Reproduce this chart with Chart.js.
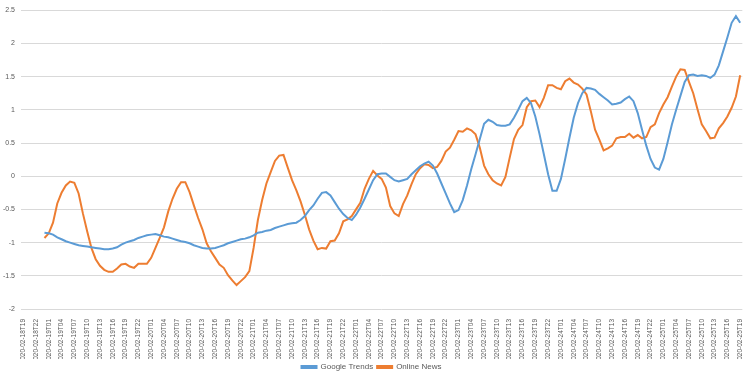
<!DOCTYPE html>
<html>
<head>
<meta charset="utf-8">
<script src="https://cdn.jsdelivr.net/npm/chart.js@4/dist/chart.umd.min.js"></script>
<style>
html,body{margin:0;padding:0;background:#fff;}
#wrap{width:750px;height:381px;position:relative;}
</style>
</head>
<body>
<div id="wrap"><canvas id="c" width="750" height="381"></canvas></div>
<script>
// Category labels: hourly, 2020-02-18T19 .. 2020-02-25T19
const startDay = 18;
const startHour = 19;
const hourCount = 169;
const categories = [];
for (let k = 0; k < hourCount; k++) {
  const t = startHour + k;
  const d = startDay + Math.floor(t / 24);
  const h = t % 24;
  categories.push('2020-02-' + String(d).padStart(2, '0') + 'T' + String(h).padStart(2, '0'));
}

const googleTrends = [
  null, null, null, null, null,
  -0.85, -0.86, -0.88, -0.92, -0.95, -0.98, -1.00, -1.02, -1.04, -1.05,
  -1.06, -1.07, -1.08, -1.09, -1.10, -1.10, -1.09, -1.07, -1.03, -1.00,
  -0.98, -0.96, -0.93, -0.91, -0.89, -0.88, -0.87, -0.89, -0.91, -0.92,
  -0.94, -0.96, -0.98, -0.99, -1.01, -1.04, -1.06, -1.08, -1.09, -1.09,
  -1.08, -1.06, -1.04, -1.01, -0.99, -0.97, -0.95, -0.94, -0.92, -0.89,
  -0.85, -0.84, -0.82, -0.81, -0.78, -0.76, -0.74, -0.72, -0.71, -0.70,
  -0.66, -0.60, -0.51, -0.44, -0.34, -0.25, -0.24, -0.29, -0.39, -0.49,
  -0.57, -0.63, -0.66, -0.58, -0.47, -0.34, -0.20, -0.06, 0.03, 0.04,
  0.04, -0.01, -0.06, -0.08, -0.06, -0.04, 0.03, 0.09, 0.15, 0.19,
  0.22, 0.16, 0.04, -0.11, -0.26, -0.41, -0.54, -0.51, -0.36, -0.14,
  0.11, 0.33, 0.56, 0.79, 0.85, 0.82, 0.77, 0.76, 0.76, 0.78,
  0.88, 1.00, 1.13, 1.18, 1.10, 0.90, 0.63, 0.33, 0.03, -0.22,
  -0.22, -0.04, 0.26, 0.58, 0.88, 1.10, 1.25, 1.33, 1.32, 1.30,
  1.24, 1.19, 1.14, 1.08, 1.09, 1.11, 1.16, 1.20, 1.13, 0.95,
  0.70, 0.46, 0.26, 0.13, 0.10, 0.26, 0.51, 0.78, 1.00, 1.21,
  1.42, 1.52, 1.53, 1.51, 1.52, 1.51, 1.48, 1.53, 1.67, 1.88,
  2.09, 2.31, 2.41, 2.31
];

const onlineNews = [
  null, null, null, null, null,
  -0.93, -0.86, -0.70, -0.41, -0.25, -0.14, -0.08, -0.10, -0.26, -0.56,
  -0.83, -1.08, -1.25, -1.35, -1.41, -1.44, -1.44, -1.39, -1.33, -1.32,
  -1.36, -1.38, -1.32, -1.32, -1.32, -1.23, -1.08, -0.93, -0.77, -0.53,
  -0.34, -0.19, -0.09, -0.09, -0.24, -0.44, -0.63, -0.80, -1.01, -1.13,
  -1.23, -1.33, -1.38, -1.49, -1.57, -1.64, -1.58, -1.52, -1.43, -1.08,
  -0.66, -0.36, -0.11, 0.06, 0.23, 0.31, 0.32, 0.13, -0.06, -0.21,
  -0.38, -0.58, -0.80, -0.97, -1.10, -1.08, -1.09, -0.98, -0.97, -0.86,
  -0.68, -0.65, -0.60, -0.50, -0.40, -0.19, -0.04, 0.08, 0.01, -0.04,
  -0.17, -0.45, -0.56, -0.60, -0.42, -0.29, -0.12, 0.03, 0.12, 0.18,
  0.17, 0.12, 0.14, 0.23, 0.37, 0.43, 0.55, 0.68, 0.67, 0.72,
  0.69, 0.63, 0.43, 0.16, 0.03, -0.06, -0.11, -0.14, -0.01, 0.28,
  0.56, 0.70, 0.77, 1.04, 1.13, 1.14, 1.04, 1.18, 1.37, 1.37,
  1.33, 1.31, 1.43, 1.47, 1.41, 1.38, 1.32, 1.23, 0.98, 0.70,
  0.55, 0.39, 0.42, 0.46, 0.57, 0.59, 0.59, 0.64, 0.58, 0.62,
  0.57, 0.59, 0.74, 0.78, 0.95, 1.08, 1.19, 1.35, 1.50, 1.61,
  1.60, 1.42, 1.25, 1.01, 0.78, 0.68, 0.57, 0.58, 0.72, 0.80,
  0.90, 1.03, 1.20, 1.52
];

const yMin = -2, yMax = 2.5, yStep = 0.5;
const labelEvery = 3;

const textColor = '#595959';
const gridColor = '#d9d9d9';

new Chart(document.getElementById('c'), {
  type: 'line',
  data: {
    labels: categories,
    datasets: [
      { label: 'Google Trends', data: googleTrends, borderColor: '#5b9bd5', backgroundColor: '#5b9bd5',
        borderWidth: 2, pointRadius: 0, tension: 0, spanGaps: false },
      { label: 'Online News', data: onlineNews, borderColor: '#ed7d31', backgroundColor: '#ed7d31',
        borderWidth: 2, pointRadius: 0, tension: 0, spanGaps: false }
    ]
  },
  options: {
    responsive: false,
    animation: false,
    devicePixelRatio: 1,
    layout: { padding: { left: 0, right: 7, top: 0, bottom: 0 } },
    plugins: {
      legend: {
        position: 'bottom',
        labels: {
          boxWidth: 15, boxHeight: 2, padding: 4, color: textColor,
          font: { family: 'Liberation Sans, Arial, sans-serif', size: 8 }
        }
      },
      tooltip: { enabled: false }
    },
    scales: {
      x: {
        type: 'category',
        offset: true,
        grid: { display: false },
        border: { display: false },
        ticks: {
          autoSkip: false, maxRotation: 90, minRotation: 90, padding: 2,
          color: textColor,
          font: { family: 'Liberation Sans, Arial, sans-serif', size: 6.5 },
          callback: function(v, i) { return i % labelEvery === 0 ? categories[i] : ''; }
        },
        afterFit: function(s) { s.height = 50; }
      },
      y: {
        min: yMin, max: yMax,
        grid: { color: gridColor, lineWidth: 1, drawTicks: false },
        border: { display: false },
        ticks: {
          stepSize: yStep, padding: 6, color: textColor,
          font: { family: 'Liberation Sans, Arial, sans-serif', size: 7 },
          callback: function(v) { return String(Math.round(v * 10) / 10); }
        },
        afterFit: function(s) { s.width = 21; }
      }
    }
  }
});
</script>
</body>
</html>
